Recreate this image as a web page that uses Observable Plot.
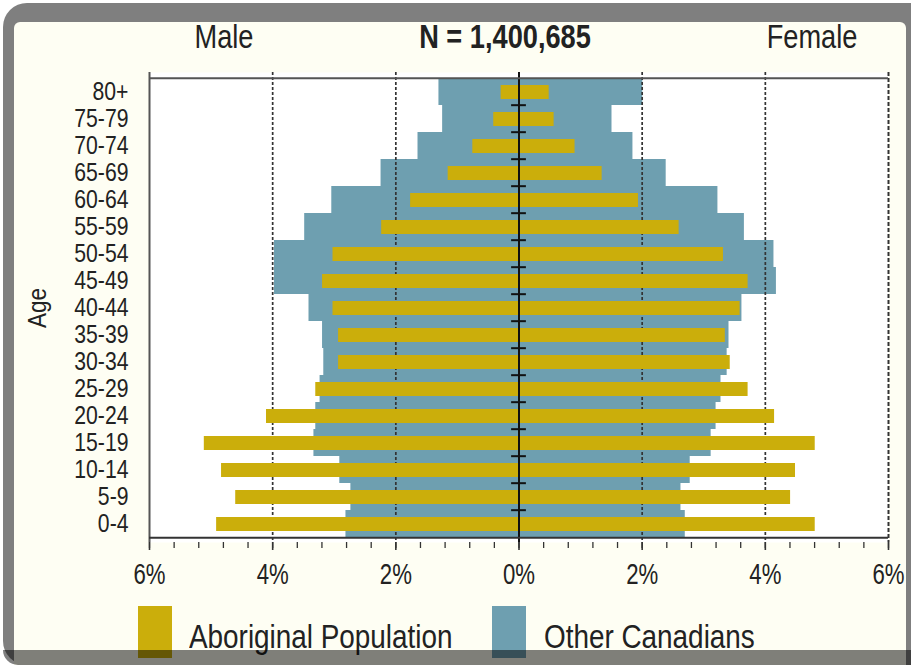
<!DOCTYPE html>
<html>
<head>
<meta charset="utf-8">
<script src="https://cdn.jsdelivr.net/npm/d3@7"></script>
<script src="https://cdn.jsdelivr.net/npm/@observablehq/plot@0.6"></script>
<style>
  html, body { margin: 0; padding: 0; background: #fff; }
  #wrap { position: relative; width: 911px; height: 668px; overflow: hidden;
          font-family: "Liberation Sans", Arial, sans-serif; color: #222; }
  .abs { position: absolute; }
  #outer { left: 3px; top: 3px; width: 940px; height: 662px; background: #7f7f7f; border-radius: 24px; }
  #inner { left: 14px; top: 22px; width: 892px; height: 643px; background: #fefef3; border-radius: 6px 6px 0 0; }
  #chart { left: 0; top: 0; }
  #chart svg { background: transparent !important; }
  .title { top: 19px; font-size: 34px; line-height: 1; white-space: nowrap; transform: translateX(-50%) scaleX(0.8); }
  .leg { top: 606px; width: 34px; height: 52px; }
  .legt { top: 619px; font-size: 34px; line-height: 1; white-space: nowrap; transform-origin: 0 0; transform: scaleX(0.82); }
  #shade { left: 3px; top: 650px; width: 940px; height: 15px; background: rgba(0,0,0,0.5); border-radius: 0 0 0 24px; }
  #age { left: 37px; top: 308px; font-size: 25px; line-height: 1; transform: translate(-50%,-50%) rotate(-90deg) scaleX(0.9); }
</style>
</head>
<body>
<div id="wrap">
  <div id="outer" class="abs"></div>
  <div id="inner" class="abs"></div>
  <div id="chart" class="abs"></div>
  <div class="abs title" style="left:224px;">Male</div>
  <div class="abs title" style="left:505px;font-weight:bold;">N = 1,400,685</div>
  <div class="abs title" style="left:812px;">Female</div>
  <div id="age" class="abs">Age</div>
  <div class="abs leg" style="left:138px;background:#cbae0b;"></div>
  <div class="abs legt" style="left:189px;">Aboriginal Population</div>
  <div class="abs leg" style="left:492px;background:#6e9fb0;"></div>
  <div class="abs legt" style="left:544px;">Other Canadians</div>
  <div id="shade" class="abs"></div>
</div>
<script>
const ages = ["80+","75-79","70-74","65-69","60-64","55-59","50-54","45-49","40-44","35-39","30-34","25-29","20-24","15-19","10-14","5-9","0-4"];
const otherMale    = [1.30,1.24,1.64,2.24,3.04,3.48,3.97,3.97,3.41,3.19,3.17,3.23,3.30,3.33,2.91,2.73,2.81];
const otherFemale  = [2.01,1.51,1.85,2.39,3.23,3.66,4.14,4.18,3.62,3.41,3.38,3.28,3.20,3.12,2.78,2.63,2.70];
const aborMale     = [0.29,0.41,0.75,1.15,1.76,2.23,3.02,3.19,3.02,2.93,2.93,3.30,4.10,5.11,4.83,4.60,4.91];
const aborFemale   = [0.49,0.57,0.91,1.35,1.94,2.60,3.32,3.72,3.59,3.35,3.43,3.72,4.15,4.81,4.49,4.41,4.81];
const xLabels = [-6,-4,-2,0,2,4,6];
const minorTicks = d3.range(-30, 31, 2).map(d => d / 5);

const teal = "#6e9fb0", gold = "#cbae0b";
const W = 911, H = 668, mT = 72, mB = 126, mL = 149, mR = 23;
const band = (H - mT - mB) / ages.length;

const rows = ages.map((a, i) => ({age: a, om: otherMale[i], of: otherFemale[i], am: aborMale[i], af: aborFemale[i]}));

const chart = Plot.plot({
  width: W, height: H,
  marginTop: mT, marginBottom: mB, marginLeft: mL, marginRight: mR,
  style: {background: "transparent", fontFamily: "'Liberation Sans',Arial,sans-serif", color: "#222"},
  x: {domain: [-6, 6]},
  y: {domain: ages, padding: 0},
  marks: [
    Plot.frame({fill: "white", stroke: "none"}),
    Plot.barX(rows, {y: "age", x1: 0, x2: d => -d.om, fill: teal}),
    Plot.barX(rows, {y: "age", x1: 0, x2: "of", fill: teal}),
    Plot.ruleX([-4, -2, 2, 4], {stroke: "#333", strokeWidth: 1.7, strokeDasharray: "3,2"}),
    Plot.ruleX([6], {stroke: "#333", strokeWidth: 2, strokeDasharray: "4,2"}),
    Plot.barX(rows, {y: "age", x1: 0, x2: d => -d.am, fill: gold, insetTop: 7, insetBottom: 6}),
    Plot.barX(rows, {y: "age", x1: 0, x2: "af", fill: gold, insetTop: 7, insetBottom: 6}),
    Plot.ruleX([-6], {stroke: "#555", strokeWidth: 2}),
    Plot.ruleX([0], {stroke: "#111", strokeWidth: 2}),
    Plot.ruleY(ages.slice(1), {y: d => d, x1: -0.12, x2: 0.12, dy: -band / 2, stroke: "#111", strokeWidth: 2}),
    Plot.ruleY(ages.slice(0, 1), {y: d => d, dy: -band / 2, stroke: "#555", strokeWidth: 2}),
    Plot.ruleY(ages.slice(-1), {y: d => d, dy: band / 2, stroke: "#333", strokeWidth: 2}),
    Plot.axisX({ticks: minorTicks, tickSize: 6, tickFormat: () => "", stroke: "#333", strokeWidth: 1.3}),
    Plot.axisX({ticks: xLabels, tickSize: 8, tickPadding: 12, fontSize: 30, stroke: "#333", strokeWidth: 1.6,
                tickFormat: d => Math.abs(d) + "%", fill: "#222"}),
    Plot.axisY({tickSize: 0, tickPadding: 21, fontSize: 26.5, label: null, fill: "#222"})
  ]
});
// condense tick labels horizontally (narrow typeface look)
chart.querySelectorAll("g[aria-label='x-axis tick label'] text, g[aria-label='y-axis tick label'] text").forEach(t => {
  const isY = t.closest("g").getAttribute("aria-label").startsWith("y");
  const s = isY ? 0.8 : 0.74;
  const x = +t.getAttribute("x") || 0, y = +t.getAttribute("y") || 0;
  const tr = t.getAttribute("transform") || "";
  t.setAttribute("transform", `${tr} translate(${x},${y}) scale(${s},1) translate(${-x},${-y})`);
});
document.getElementById("chart").appendChild(chart);
</script>
</body>
</html>
